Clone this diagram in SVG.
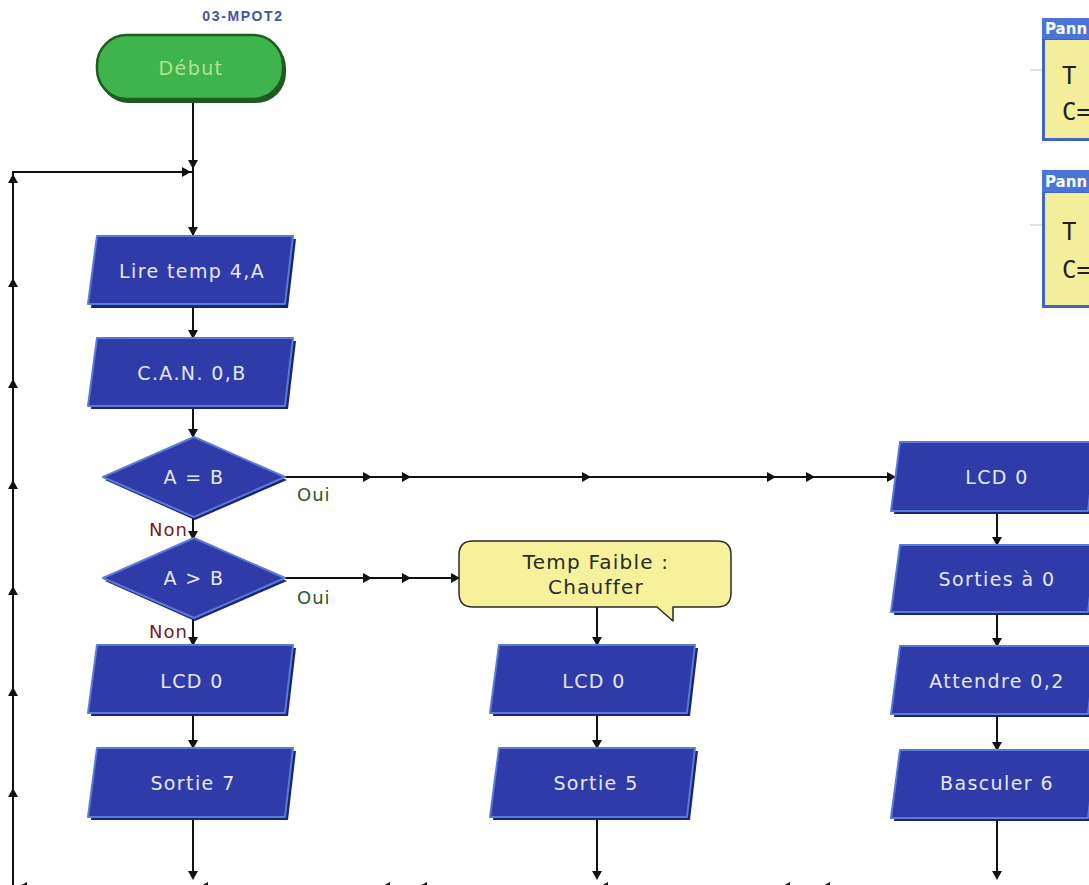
<svg xmlns="http://www.w3.org/2000/svg" xmlns:xlink="http://www.w3.org/1999/xlink" width="1089" height="885" viewBox="0 0 1089 885">
  <style>
    .io { fill: #2e3ba8; stroke: #5a7ad6; stroke-width: 2; stroke-linejoin: round; }
    .io-sh { fill: #1b2474; }
    .dec { fill: #2e3ba8; stroke: #5a7ad6; stroke-width: 2; stroke-linejoin: round; }
    .lbl { font-family: "DejaVu Sans", Verdana, sans-serif; font-size: 19px; letter-spacing: 1.4px; fill: #e6e8f6; text-anchor: middle; dominant-baseline: central; }
    .line { stroke: #111; stroke-width: 2; fill: none; }
    .ah { fill: #111; }
    .oui { font-family: "DejaVu Sans", sans-serif; font-size: 18px; letter-spacing: 1px; fill: #2a5a2a; }
    .non { font-family: "DejaVu Sans", sans-serif; font-size: 18px; letter-spacing: 1px; fill: #7a1a1a; }
    .note { font-family: "DejaVu Sans", sans-serif; font-size: 20px; letter-spacing: 1.2px; fill: #2a2a2a; text-anchor: middle; dominant-baseline: central; }
    .lcd { font-family: "DejaVu Sans Mono", monospace; font-size: 24px; fill: #222; }
  </style>
  <defs>
    <path id="ar" d="M-7,-5 L2,0 L-7,5 Z"/>
    <path id="ad" d="M-5,-7 L5,-7 L0,2 Z"/>
    <path id="au" d="M-5,7 L5,7 L0,-2 Z"/>
    <path id="al" d="M7,-5 L-2,0 L7,5 Z"/>
  </defs>

  <rect width="1089" height="885" fill="#ffffff"/>

  <!-- connectors -->
  <g id="connectors">
    <!-- main trunk, left column -->
    <path class="line" d="M193,101 V235"/>
    <path class="line" d="M193,305 V338"/>
    <path class="line" d="M193,406 V437"/>
    <path class="line" d="M193,518 V539"/>
    <path class="line" d="M193,619 V645"/>
    <path class="line" d="M193,713 V748"/>
    <path class="line" d="M193,817 V878"/>
    <!-- loop back -->
    <path class="line" d="M13,885 V172 H193"/>
    <!-- A = B : Oui -->
    <path class="line" d="M285,477 H893"/>
    <!-- A > B : Oui -->
    <path class="line" d="M285,578 H459"/>
    <!-- middle column -->
    <path class="line" d="M597,607 V645"/>
    <path class="line" d="M597,713 V748"/>
    <path class="line" d="M597,817 V878"/>
    <!-- right column -->
    <path class="line" d="M997,511 V545"/>
    <path class="line" d="M997,612 V646"/>
    <path class="line" d="M997,714 V750"/>
    <path class="line" d="M997,818 V878"/>

    <g class="ah">
      <use xlink:href="#ad" x="193" y="167"/>
      <use xlink:href="#ar" x="189" y="172"/>
      <use xlink:href="#ad" x="193" y="234"/>
      <use xlink:href="#ad" x="193" y="337"/>
      <use xlink:href="#ad" x="193" y="436"/>
      <use xlink:href="#ad" x="193" y="538"/>
      <use xlink:href="#ad" x="193" y="644"/>
      <use xlink:href="#ad" x="193" y="747"/>
      <use xlink:href="#ad" x="193" y="878"/>

      <use xlink:href="#au" x="13" y="176"/>
      <use xlink:href="#au" x="13" y="280"/>
      <use xlink:href="#au" x="13" y="381"/>
      <use xlink:href="#au" x="13" y="482"/>
      <use xlink:href="#au" x="13" y="588"/>
      <use xlink:href="#au" x="13" y="689"/>
      <use xlink:href="#au" x="13" y="790"/>

      <use xlink:href="#ar" x="370" y="477"/>
      <use xlink:href="#ar" x="409" y="477"/>
      <use xlink:href="#ar" x="589" y="477"/>
      <use xlink:href="#ar" x="774" y="477"/>
      <use xlink:href="#ar" x="813" y="477"/>
      <use xlink:href="#ar" x="894" y="477"/>

      <use xlink:href="#ar" x="370" y="578"/>
      <use xlink:href="#ar" x="409" y="578"/>
      <use xlink:href="#ar" x="458" y="578"/>

      <use xlink:href="#ad" x="597" y="644"/>
      <use xlink:href="#ad" x="597" y="747"/>
      <use xlink:href="#ad" x="597" y="878"/>

      <use xlink:href="#ad" x="997" y="544"/>
      <use xlink:href="#ad" x="997" y="645"/>
      <use xlink:href="#ad" x="997" y="749"/>
      <use xlink:href="#ad" x="997" y="878"/>

      <!-- return line along the bottom edge -->
      <use xlink:href="#al" x="20" y="887"/>
      <use xlink:href="#al" x="201" y="887"/>
      <use xlink:href="#al" x="383" y="887"/>
      <use xlink:href="#al" x="420" y="887"/>
      <use xlink:href="#al" x="601" y="887"/>
      <use xlink:href="#al" x="783" y="887"/>
      <use xlink:href="#al" x="823" y="887"/>
    </g>
  </g>

  <!-- labels on branches -->
  <text class="oui" x="297" y="501">Oui</text>
  <text class="oui" x="297" y="604">Oui</text>
  <text class="non" x="149" y="536">Non</text>
  <text class="non" x="149" y="638">Non</text>

  <!-- program name -->
  <text x="243" y="21" font-family="'Liberation Sans', Arial, sans-serif" font-weight="bold" font-size="14" letter-spacing="1.6" fill="#4652a6" text-anchor="middle">03-MPOT2</text>

  <g id="n-debut">
    <rect x="99" y="38" width="187" height="65" rx="30" fill="#1d5a1d"/>
    <rect x="97" y="35" width="186" height="64" rx="30" fill="#3fb44c" stroke="#1f5c1f" stroke-width="2.5"/>
    <text class="lbl" x="191" y="68" style="fill:#b2e296">Début</text>
  </g>

  <g id="n-lire">
    <polygon class="io-sh" points="100,239 296,239 288,308 91,308"/>
    <polygon class="io" points="97,236 293,236 285,304 88,304"/>
    <text class="lbl" x="192" y="271">Lire temp 4,A</text>
  </g>

  <g id="n-can">
    <polygon class="io-sh" points="100,341 296,341 288,409 91,409"/>
    <polygon class="io" points="97,338 293,338 285,406 88,406"/>
    <text class="lbl" x="192" y="373">C.A.N. 0,B</text>
  </g>

  <g id="n-aeqb">
    <polygon fill="#1b2474" points="195,440 287,480 195,520 105,480"/>
    <polygon class="dec" points="194,437 285,477 194,517 103,477"/>
    <text class="lbl" x="194" y="477">A = B</text>
  </g>

  <g id="n-agtb">
    <polygon fill="#1b2474" points="195,541 287,581 195,621 105,581"/>
    <polygon class="dec" points="194,538 285,578 194,618 103,578"/>
    <text class="lbl" x="194" y="578">A &gt; B</text>
  </g>

  <g id="n-lcd-a">
    <polygon class="io-sh" points="100,648 296,648 288,716 91,716"/>
    <polygon class="io" points="97,645 293,645 285,713 88,713"/>
    <text class="lbl" x="192" y="681">LCD 0</text>
  </g>

  <g id="n-sortie7">
    <polygon class="io-sh" points="100,751 296,751 288,820 91,820"/>
    <polygon class="io" points="97,748 293,748 285,817 88,817"/>
    <text class="lbl" x="193" y="783">Sortie 7</text>
  </g>

  <g id="n-note">
    <path d="M473,541 H717 Q731,541 731,555 V593 Q731,607 717,607 H673 V621 L657,607 H473 Q459,607 459,593 V555 Q459,541 473,541 Z" fill="#f6f29c" stroke="#2a2a2a" stroke-width="1.5" stroke-linejoin="round"/>
    <text class="note" x="596" y="562">Temp Faible :</text>
    <text class="note" x="596" y="587">Chauffer</text>
  </g>

  <g id="n-lcd-b">
    <polygon class="io-sh" points="502,648 698,648 690,716 493,716"/>
    <polygon class="io" points="499,645 695,645 687,713 490,713"/>
    <text class="lbl" x="594" y="681">LCD 0</text>
  </g>

  <g id="n-sortie5">
    <polygon class="io-sh" points="502,751 698,751 690,820 493,820"/>
    <polygon class="io" points="499,748 695,748 687,817 490,817"/>
    <text class="lbl" x="596" y="783">Sortie 5</text>
  </g>

  <g id="n-lcd-c">
    <polygon class="io-sh" points="903,445 1099,445 1091,514 894,514"/>
    <polygon class="io" points="900,442 1096,442 1088,511 891,511"/>
    <text class="lbl" x="997" y="477">LCD 0</text>
  </g>

  <g id="n-sorties0">
    <polygon class="io-sh" points="903,548 1099,548 1091,615 894,615"/>
    <polygon class="io" points="900,545 1096,545 1088,612 891,612"/>
    <text class="lbl" x="997" y="579">Sorties à 0</text>
  </g>

  <g id="n-attendre">
    <polygon class="io-sh" points="903,649 1099,649 1091,717 894,717"/>
    <polygon class="io" points="900,646 1096,646 1088,714 891,714"/>
    <text class="lbl" x="997" y="681">Attendre 0,2</text>
  </g>

  <g id="n-basculer">
    <polygon class="io-sh" points="903,753 1099,753 1091,821 894,821"/>
    <polygon class="io" points="900,750 1096,750 1088,818 891,818"/>
    <text class="lbl" x="997" y="783">Basculer 6</text>
  </g>

  <!-- LCD panels -->
  <g id="panel-1">
    <line x1="1030" y1="70" x2="1042" y2="70" stroke="#c8c8c8" stroke-width="1"/>
    <rect x="1042" y="18" width="60" height="123" fill="#3f63c8"/>
    <rect x="1042" y="18" width="60" height="21" fill="#4a74d8"/>
    <rect x="1045" y="40" width="60" height="98" fill="#f3ee9a"/>
    <text x="1045" y="34" font-family="'DejaVu Sans', sans-serif" font-size="15" font-weight="bold" fill="#ffffff">Pann</text>
    <text class="lcd" x="1062" y="84">T</text>
    <text class="lcd" x="1062" y="120">C=</text>
  </g>

  <g id="panel-2">
    <line x1="1030" y1="225" x2="1042" y2="225" stroke="#c8c8c8" stroke-width="1"/>
    <rect x="1042" y="170" width="60" height="138" fill="#3f63c8"/>
    <rect x="1042" y="170" width="60" height="22" fill="#4a74d8"/>
    <rect x="1045" y="193" width="60" height="112" fill="#f3ee9a"/>
    <text x="1045" y="187" font-family="'DejaVu Sans', sans-serif" font-size="15" font-weight="bold" fill="#ffffff">Pann</text>
    <text class="lcd" x="1062" y="240">T</text>
    <text class="lcd" x="1062" y="278">C=</text>
  </g>
</svg>
